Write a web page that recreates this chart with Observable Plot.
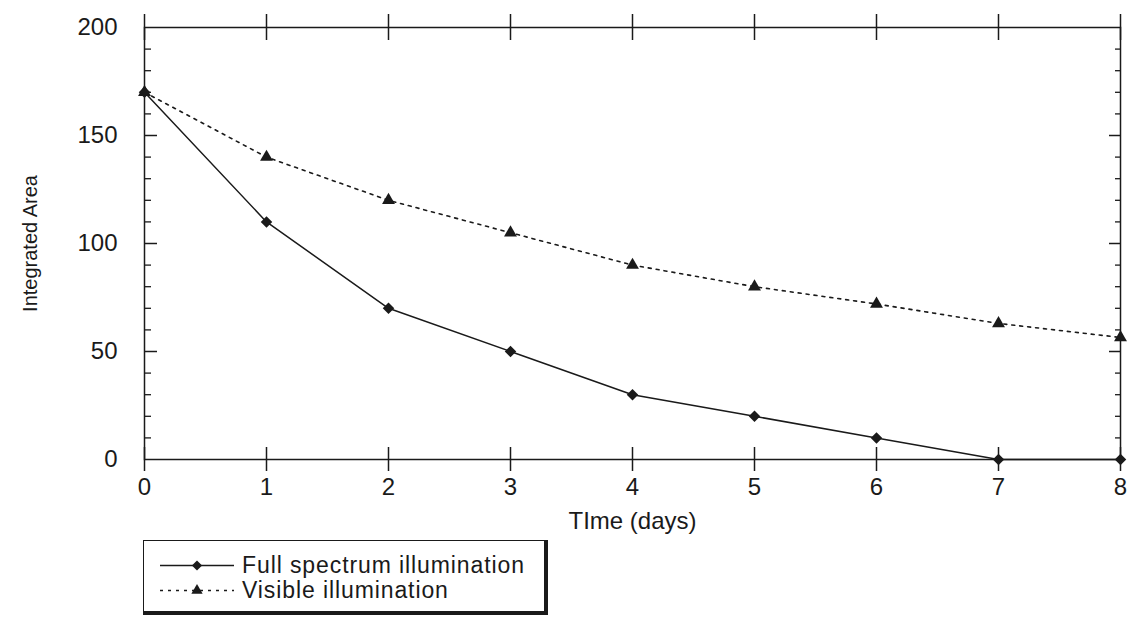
<!DOCTYPE html>
<html>
<head>
<meta charset="utf-8">
<script src="https://cdn.jsdelivr.net/npm/d3@7"></script>
<script src="https://cdn.jsdelivr.net/npm/@observablehq/plot@0.6"></script>
<style>
  html, body { margin: 0; padding: 0; background: #fff; }
  body { width: 1131px; height: 617px; overflow: hidden; font-family: "Liberation Sans", Arial, Helvetica, sans-serif; color: #1a1a1a; }
  #legend { margin-left: 143px; margin-top: 5px; width: 405px; height: 75px; box-sizing: border-box;
    border: 1.5px solid #1a1a1a; border-right-width: 4px; border-bottom-width: 4px; padding-top: 12px; }
  .row { display: flex; align-items: center; height: 25px; }
  .row svg { margin-left: 16px; flex: none; }
  .row span { margin-left: 8px; font-size: 23px; letter-spacing: 0.9px; line-height: 25px; }
</style>
</head>
<body>
<div id="chart"></div>
<div id="legend"></div>
<script>
// ---- data ----
const days = [0, 1, 2, 3, 4, 5, 6, 7, 8];
const fullSpectrum = [170, 110, 70, 50, 30, 20, 10, 0, 0];
const visibleIllum = [170, 140, 120, 105, 90, 80, 72, 63, 56.5];
const seriesNames = ["Full spectrum illumination", "Visible illumination"];
const xTicks = [0, 1, 2, 3, 4, 5, 6, 7, 8];
const yTicks = [0, 50, 100, 150, 200];
const yMinorTicks = [10, 20, 30, 40, 60, 70, 80, 90, 110, 120, 130, 140, 160, 170, 180, 190];
const yMajorInner = [50, 100, 150];

// ---- layout ----
const W = 1131, H = 535;
const mL = 144, mR = 11, mT = 27, mB = H - 459;
const fw = W - mL - mR, fh = H - mT - mB;
const ink = "#1a1a1a";

const fullData = days.map((d, i) => ({day: d, value: fullSpectrum[i]}));
const visData = days.map((d, i) => ({day: d, value: visibleIllum[i]}));

const chart = Plot.plot({
  width: W, height: H,
  marginLeft: mL, marginRight: mR, marginTop: mT, marginBottom: mB,
  style: {fontFamily: '"Liberation Sans", Arial, Helvetica, sans-serif', color: ink, background: "#fff", overflow: "visible"},
  x: {domain: [0, 8]},
  y: {domain: [0, 200]},
  marks: [
    Plot.frame({stroke: ink, strokeWidth: 1.5}),
    // tick labels
    Plot.axisY(yTicks, {anchor: "left", tickSize: 0, tickPadding: 27, fontSize: 24, label: null, fill: ink, tickFormat: d => String(d)}),
    Plot.axisX(xTicks, {anchor: "bottom", tickSize: 0, tickPadding: 18, fontSize: 24, label: null, fill: ink, tickFormat: d => String(d)}),
    // inward ticks left
    Plot.tickY(yMinorTicks, {y: d => d, insetRight: fw - 7, stroke: ink, strokeWidth: 1.3}),
    Plot.tickY(yMajorInner, {y: d => d, insetRight: fw - 13, stroke: ink, strokeWidth: 1.5}),
    // inward ticks right
    Plot.tickY(yMinorTicks, {y: d => d, insetLeft: fw - 5, stroke: ink, strokeWidth: 1.3}),
    Plot.tickY(yMajorInner, {y: d => d, insetLeft: fw - 11, stroke: ink, strokeWidth: 1.5}),
    // crossing ticks top and bottom
    Plot.tickX(xTicks, {x: d => d, insetTop: -13, insetBottom: fh - 13, stroke: ink, strokeWidth: 1.5}),
    Plot.tickX(xTicks, {x: d => d, insetTop: fh - 12, insetBottom: -12, stroke: ink, strokeWidth: 1.5}),
    // axis titles
    Plot.text(["TIme (days)"], {frameAnchor: "bottom", dy: 62, fontSize: 24, fill: ink, lineAnchor: "middle", textAnchor: "middle"}),
    Plot.text(["Integrated Area"], {frameAnchor: "left", dx: -114, rotate: -90, fontSize: 20, fill: ink, lineAnchor: "middle", textAnchor: "middle"}),
    // series
    Plot.line(visData, {x: "day", y: "value", stroke: ink, strokeWidth: 1.6, strokeDasharray: "3,5"}),
    Plot.line(fullData, {x: "day", y: "value", stroke: ink, strokeWidth: 1.5}),
    Plot.dot(visData, {x: "day", y: "value", symbol: "triangle", r: 4.8, fill: ink, stroke: "none"}),
    Plot.dot(fullData, {x: "day", y: "value", symbol: "diamond2", r: 5.2, fill: ink, stroke: "none"})
  ]
});
document.getElementById("chart").appendChild(chart);

// ---- legend ----
const legend = document.getElementById("legend");
const symbols = [d3.symbolDiamond2, d3.symbolTriangle];
const sizes = [Math.PI * 4.6 * 4.6, Math.PI * 4.2 * 4.2];
const dashes = [null, "3,5"];
seriesNames.forEach((name, i) => {
  const row = document.createElement("div");
  row.className = "row";
  const ns = "http://www.w3.org/2000/svg";
  const svg = document.createElementNS(ns, "svg");
  svg.setAttribute("width", 74); svg.setAttribute("height", 25);
  const line = document.createElementNS(ns, "line");
  line.setAttribute("x1", 0); line.setAttribute("x2", 74);
  line.setAttribute("y1", 12.5); line.setAttribute("y2", 12.5);
  line.setAttribute("stroke", ink); line.setAttribute("stroke-width", 1.3);
  if (dashes[i]) line.setAttribute("stroke-dasharray", dashes[i]);
  svg.appendChild(line);
  const path = document.createElementNS(ns, "path");
  path.setAttribute("d", d3.symbol(symbols[i], sizes[i])());
  path.setAttribute("transform", "translate(37,12.5)");
  path.setAttribute("fill", ink);
  svg.appendChild(path);
  row.appendChild(svg);
  const span = document.createElement("span");
  span.textContent = name;
  row.appendChild(span);
  legend.appendChild(row);
});
</script>
</body>
</html>
